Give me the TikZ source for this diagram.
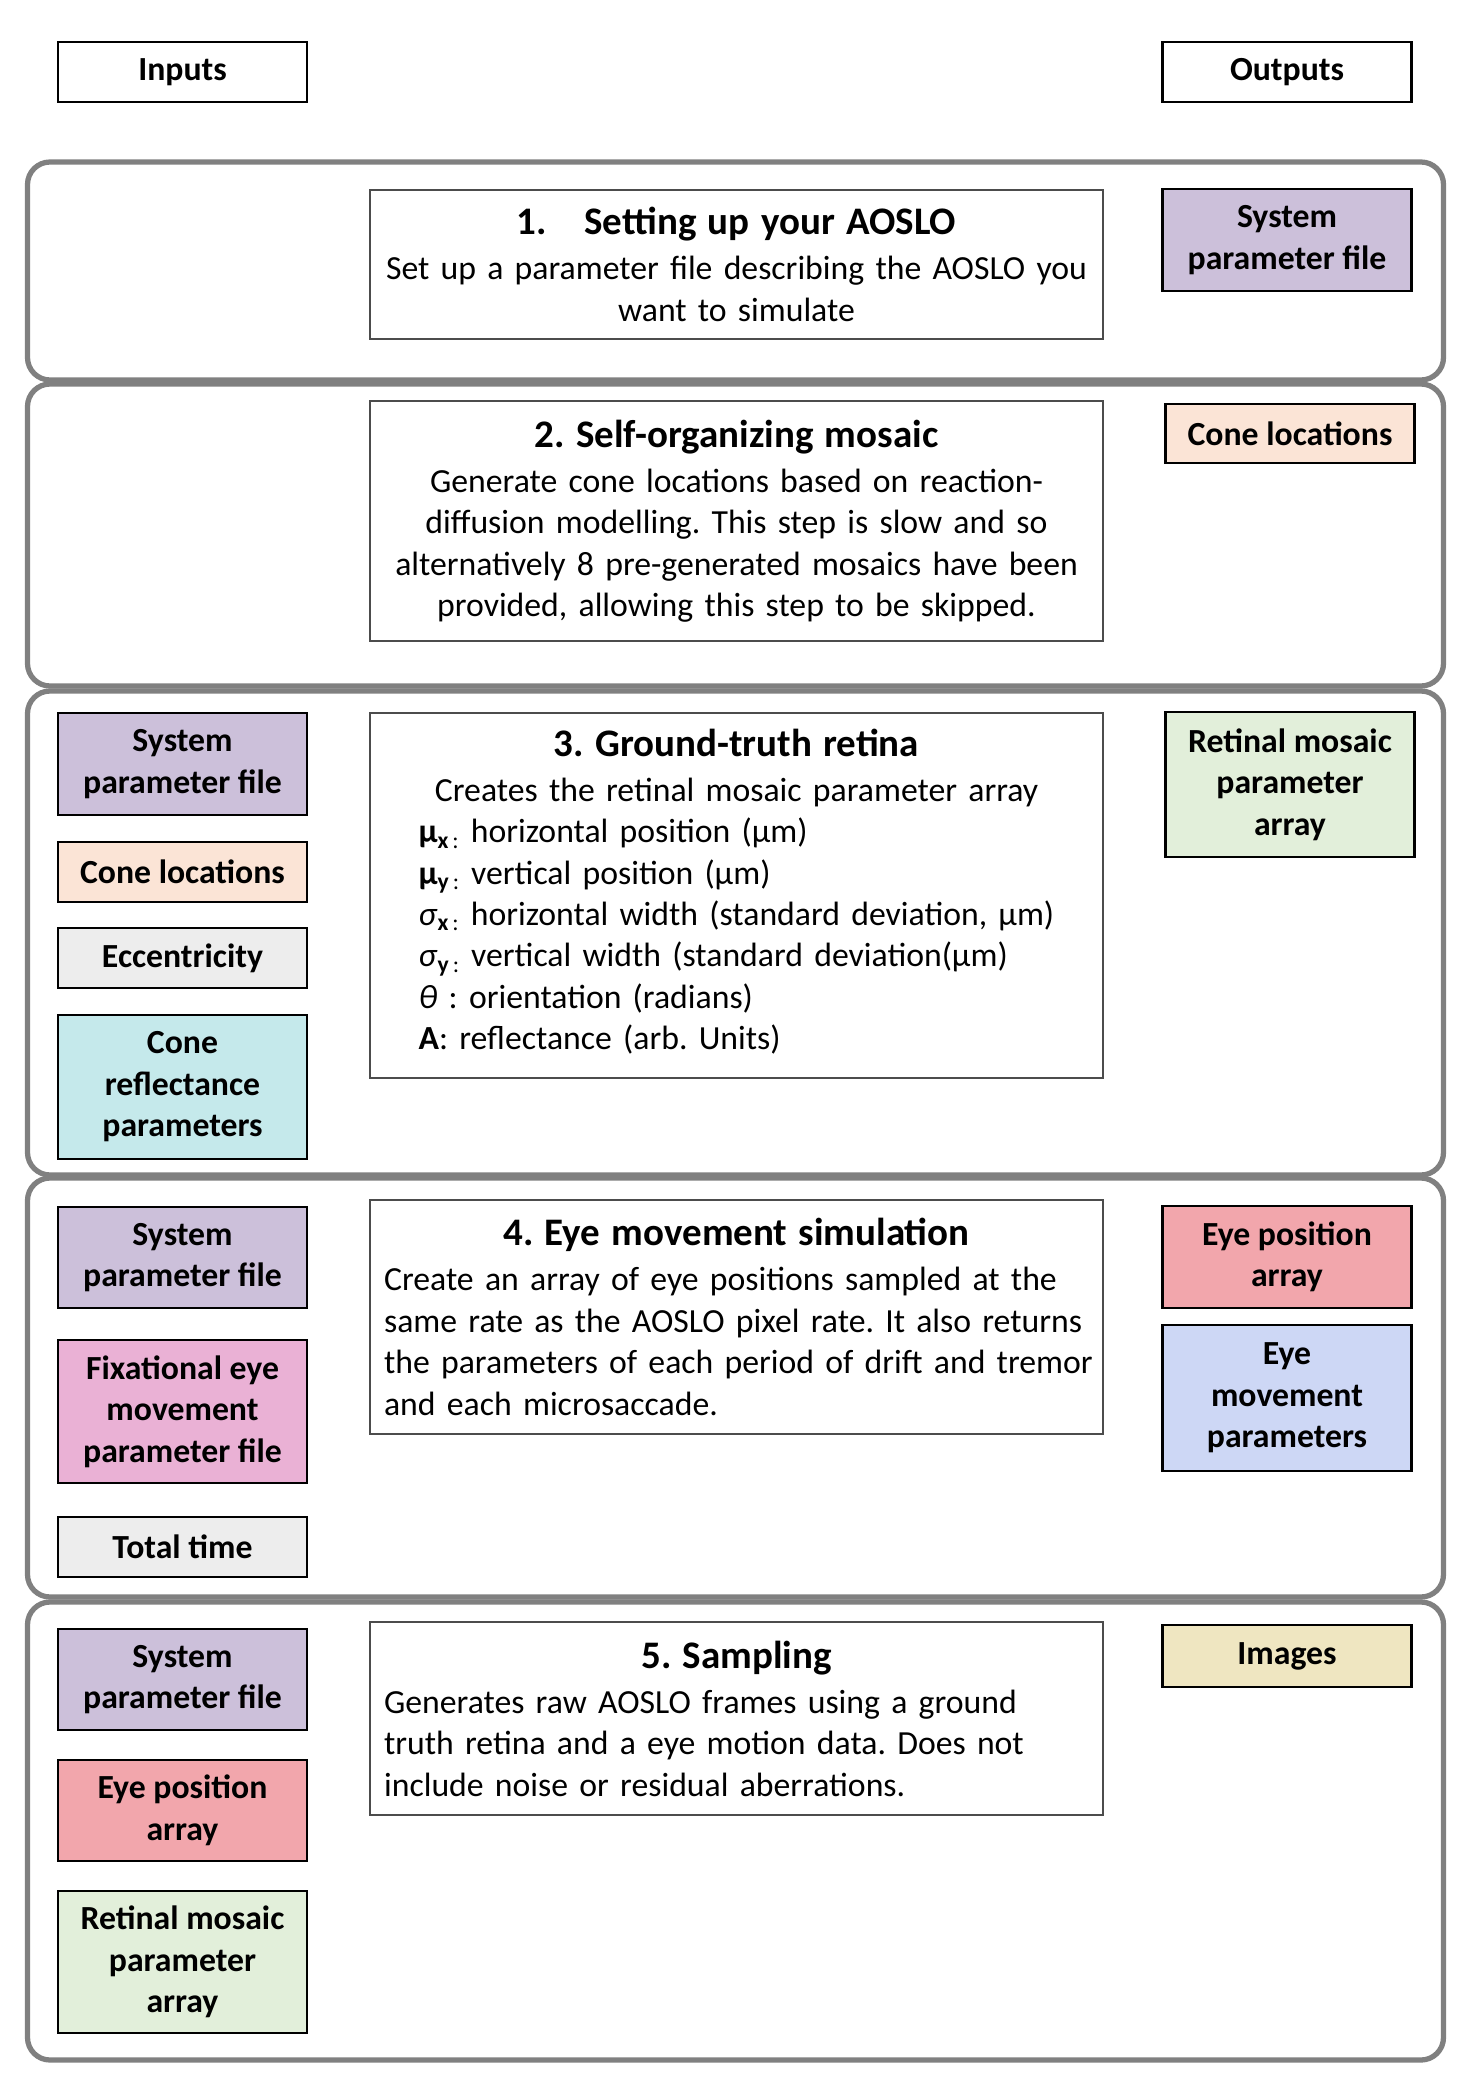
\documentclass[tikz,border=0pt]{standalone}
\usepackage{fontspec}
\setmainfont{Carlito}
\usepackage{xcolor}
\usepackage{tikz}
\usetikzlibrary{positioning}
\definecolor{sysc}{HTML}{CCC0DA}
\definecolor{conec}{HTML}{FBE4D6}
\definecolor{eccc}{HTML}{EDEDED}
\definecolor{reflc}{HTML}{C5E9EB}
\definecolor{retc}{HTML}{E2EFDA}
\definecolor{eyepc}{HTML}{F2A6AC}
\definecolor{eyemc}{HTML}{CDD7F5}
\definecolor{fixc}{HTML}{EAB1D5}
\definecolor{imgc}{HTML}{EFE6C1}
\definecolor{panc}{HTML}{808080}
\newcommand{\bodyfnt}{\fontsize{19.2pt}{23.6pt}\selectfont}
\newcommand{\ttlfnt}{\fontsize{22.2pt}{24pt}\selectfont\bfseries}
\frenchspacing
\tikzset{
  panel/.style={draw=panc,line width=3pt,rounded corners=0.45cm},
  stepbox/.style={draw=black!70,line width=0.6pt,fill=white,minimum width=733*0.02cm,
    minimum height=#1*0.02cm,text width=14.1cm,inner xsep=0.28cm,inner ysep=0pt,align=center,font=\bodyfnt},
  stepbox/.default=150,
  iobox/.style={draw=black,line width=1.2pt,minimum width=249*0.02cm,minimum height=#1*0.02cm,
    inner sep=0pt,align=center,font=\bodyfnt\bfseries},
  iobox/.default=60
}

\begin{document}
\begin{tikzpicture}[x=0.02cm,y=-0.02cm]
\useasboundingbox (0,0) rectangle (1471,2082);
% headers
\node[iobox,fill=white] (inputs) at (182.5,72) {Inputs};
\node[iobox,fill=white] (outputs) at (1287,72) {Outputs};
% the five stages
\draw[panel] (27.5,162) rectangle (1443.5,380);
\draw[panel] (27.5,384) rectangle (1443.5,686);
\draw[panel] (27.5,691) rectangle (1443.5,1175);
\draw[panel] (27.5,1178) rectangle (1443.5,1597);
\draw[panel] (27.5,1602) rectangle (1443.5,2060);

% 1
\node[stepbox=149] (setup) at (736.5,264.5) {{\ttlfnt 1.\hspace{0.75cm}Setting up your AOSLO}\\[2pt]
  Set up a parameter file describing the AOSLO you\\ want to simulate};
\node[iobox=102,fill=sysc] (sysout) at (1287,240) {System\\parameter file};

% 2
\node[stepbox=240] (mosaic) at (736.5,521) {{\ttlfnt 2. Self-organizing mosaic}\\[2pt]
  Generate cone locations based on reaction-\\
  diffusion modelling. This step is slow and so\\
  alternatively 8 pre-generated mosaics have been\\
  provided, allowing this step to be skipped.};
\node[iobox=59,fill=conec] (coneout) at (1290,433.5) {Cone locations};

% 3
\node[iobox=102,fill=sysc] (sysin3) at (182.5,764) {System\\parameter file};
\node[iobox,fill=conec] (conein) at (182.5,872) {Cone locations};
\node[iobox,fill=eccc] (ecc) at (182.5,958) {Eccentricity};
\node[iobox=144,fill=reflc] (refl) at (182.5,1087) {Cone\\reflectance\\parameters};
\node[stepbox=365] (retina) at (736.5,895.5) {{\ttlfnt 3. Ground-truth retina}\\[2pt]
  Creates the retinal mosaic parameter array\\
  \begin{tabular}[t]{@{}l@{}}
  \textbf{µ}\textsubscript{\textbf{x}\,:} horizontal position (µm)\\
  \textbf{µ}\textsubscript{\textbf{y}\,:} vertical position (µm)\\
  \textit{σ}\textsubscript{\textbf{x}\,:} horizontal width (standard deviation, µm)\\
  \textit{σ}\textsubscript{\textbf{y}\,:} vertical width (standard deviation(µm)\\
  \textit{θ} : orientation (radians)\\
  \textbf{A}: reflectance (arb. Units)
  \end{tabular}};
\node[iobox=145,fill=retc] (retout) at (1290,784.5) {Retinal mosaic\\parameter\\array};

% 4
\node[iobox=101,fill=sysc] (sysin4) at (182.5,1257.5) {System\\parameter file};
\node[iobox=143,fill=fixc] (fixin) at (182.5,1411.5) {Fixational eye\\movement\\parameter file};
\node[iobox,fill=eccc] (ttime) at (182.5,1547) {Total time};
\node[stepbox=234,align=left] (eyesim) at (736.5,1317) {\makebox[14.1cm]{\ttlfnt 4. Eye movement simulation}\\[2pt]
  \mbox{Create an array of eye positions sampled at the}\\
  \mbox{same rate as the AOSLO pixel rate. It also returns}\\
  \mbox{the parameters of each period of drift and tremor}\\
  \mbox{and each microsaccade.}};
\node[iobox=102,fill=eyepc] (eyepout) at (1287,1257) {Eye position\\array};
\node[iobox=146,fill=eyemc] (eyemout) at (1287,1398) {Eye\\movement\\parameters};

% 5
\node[iobox=101,fill=sysc] (sysin5) at (182.5,1679.5) {System\\parameter file};
\node[iobox=101,fill=eyepc] (eyepin) at (182.5,1810.5) {Eye position\\array};
\node[iobox=142,fill=retc] (retin) at (182.5,1962) {Retinal mosaic\\parameter\\array};
\node[stepbox=193,align=left] (sampling) at (736.5,1718.5) {\makebox[14.1cm]{\ttlfnt 5. Sampling}\\[2pt]
  Generates raw AOSLO frames using a ground\\
  truth retina and a eye motion data. Does not\\
  include noise or residual aberrations.};
\node[iobox=62,fill=imgc] (images) at (1287,1656) {Images};
\end{tikzpicture}
\end{document}
